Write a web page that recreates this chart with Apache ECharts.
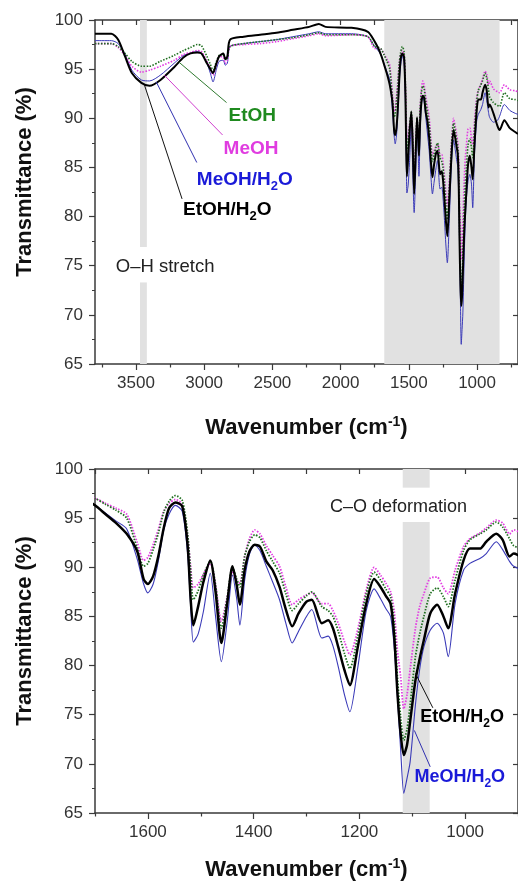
<!DOCTYPE html>
<html><head><meta charset="utf-8">
<script src="https://cdn.jsdelivr.net/npm/echarts@6/dist/echarts.min.js"></script>
<style>html,body{margin:0;padding:0;background:#fff}#c{width:518px;height:883px}</style>
</head><body><div id="c"></div>
<script>
// ---- data (wavenumber in cm-1, transmittance in %) ----
const wavenumbers = [3800,3680,3630,3580,3530,3460,3400,3320,3220,3150,3100,3050,3020,2980,2955,2935,2910,2890,2860,2845,2830,2810,2710,2590,2470,2350,2230,2160,2110,1920,1800,1750,1720,
1700,1680,1660,1640,1620,1608,1600,1590,1580,1570,1560,1548,1535,1525,1519,1514,1505,1495,1482,1472,1461,1450,1440,1432,1426,1417,1408,1398,1388,1376,1364,1351,1339,1327,1315,1300,1290,1271,1259,1250,1240,1228,1218,1203,1187,1172,1160,1150,1141,1134,1128,1122,1116,1110,1104,1094,1086,1078,1066,1053,1041,1032,1019,1003,991,972,960,941,929,916,908,880,850,835,800,760,720,700];

const etohH2o = [98.6,98.6,98.0,96.3,94.6, 93.6,93.3,93.9,95.2,96.2, 96.6,96.7,96.6,95.6,95.0, 94.6,95.6,96.3,96.6,96.0, 96.3,98.0,98.3,98.5,98.7, 99.0,99.3,99.6,99.3,99.2, 98.8,97.8,97.0,
96.3,95.4,94.5,93.4,91.6, 88.8,88.3,89.1,91.2,94.0, 96.0,96.6,96.2,92.3,86.7, 84.1,86.0,88.5,90.7,87.5, 82.3,86.3,90.1,88.2,86.2, 89.7,91.6,92.3,92.1,90.6, 89.7,88.0,85.7,84.0,85.3, 86.5,86.7,84.3,84.6,83.8, 81.9,79.5,78.0,81.9,86.3, 88.8,88.0,87.1,86.3,82.9, 77.2,73.1,70.9,71.9,74.3, 78.5,80.7,82.6,85.3,86.2, 85.0,83.8,87.3,90.7,91.9, 91.9,92.6,93.4,92.8,91.1, 91.4,90.5,89.2,88.8,89.8, 89.0,88.6,88.4];

const meohH2o = [97.9,97.9,97.6,96.5,94.9, 93.9,93.8,94.4,95.6,96.4, 96.6,96.8,96.6,95.6,94.6, 93.7,95.0,95.8,95.9,95.4, 95.6,97.3,97.6,97.8,98.0, 98.3,98.6,98.8,98.6,98.6, 98.3,97.3,96.8,
96.3,95.5,94.7,93.9,90.8, 88.3,87.4,88.3,90.7,93.8, 95.4,96.3,95.7,91.5,86.0, 82.4,83.2,85.5,89.4,85.0, 80.4,84.5,89.2,86.8,84.1, 88.7,91.3,92.3,91.7,90.1, 88.5,86.7,84.3,82.3,83.5, 85.0,85.7,82.8,83.0,82.0, 79.9,77.0,75.3,79.8,85.6, 87.8,86.8,85.8,85.0,81.8, 76.8,71.5,67.0,68.5,70.2, 76.0,79.6,81.9,83.6,84.3, 83.3,80.9,86.3,89.7,90.4, 90.9,91.4,92.6,91.8,90.6, 90.1,89.6,89.8,90.2,91.4, 90.8,90.5,90.4];

const etoh = [97.6,97.6,97.3,96.6,95.8, 95.3,95.3,95.8,96.4,96.9, 97.2,97.5,97.4,96.3,95.5, 94.9,95.8,96.4,96.5,96.0, 96.1,97.3,97.6,97.8,98.0, 98.2,98.5,98.7,98.5,98.5, 98.3,97.3,97.2,
97.0,96.4,95.8,95.0,91.9, 90.1,90.4,91.8,93.5,95.6, 96.7,97.3,96.8,93.5,89.5, 86.7,87.6,89.2,90.6,88.2, 83.8,86.9,90.0,88.8,88.0, 91.1,92.6,93.3,93.0,91.7, 90.6,89.4,87.3,85.6,86.3, 87.1,87.5,86.0,85.6,85.0, 83.5,81.2,79.7,83.0,87.3, 89.5,88.7,87.8,87.0,84.2, 78.8,74.8,72.4,73.5,76.0, 80.9,83.2,85.0,87.3,87.9, 87.0,86.0,88.7,91.7,92.8, 93.4,93.8,94.6,94.1,92.9, 92.2,91.6,91.3,91.2,92.6, 92.0,91.9,91.8];

const meoh = [97.6,97.6,97.2,96.4,95.3, 94.7,94.9,95.3,95.9,96.5, 96.7,96.9,96.8,95.8,95.1, 94.4,95.5,96.3,96.2,95.6, 95.9,97.3,97.5,97.6,97.8, 98.1,98.4,98.6,98.4,98.5, 98.3,97.1,97.1,
97.0,96.5,96.0,95.4,92.5, 90.7,91.0,92.3,93.9,95.7, 96.5,96.9,96.4,93.2,90.0, 87.9,88.3,89.3,90.4,88.2, 84.5,87.0,89.6,88.6,88.4, 91.1,92.9,93.8,93.4,92.2, 91.2,90.1,88.0,86.2,86.7, 87.2,87.4,86.3,86.3,85.6, 84.3,82.4,81.1,83.7,87.7, 90.0,89.2,88.4,87.5,85.5, 81.5,78.9,75.6,77.0,79.6, 83.8,86.0,87.3,88.9,89.0, 87.9,87.3,89.7,92.1,92.9, 93.5,94.0,94.8,94.5,93.4, 93.8,93.0,92.7,92.6,93.4, 92.9,92.8,92.7];

// tick values
const topMajorTicks = [3500,3000,2500,2000,1500,1000];
const topMinorTicks = [3750,3250,2750,2250,1750,1250,750];
const botMajorTicks = [1600,1400,1200,1000];
const botMinorTicks = [1700,1500,1300,1100,900];

// ---- chart ----
const FONT = 'Liberation Sans, Arial, Helvetica, sans-serif';
const AX = '#3a3a3a';
const chart = echarts.init(document.getElementById('c'), null, {renderer:'canvas'});

const seriesDefs = [
  {name:'MeOH/H2O', vals:meohH2o, color:'#3a3ab8', type:'solid', w:[1,1.1]},
  {name:'MeOH', vals:meoh, color:'#e23de2', type:[1.5,1.5], w:[1.6,1.8]},
  {name:'EtOH', vals:etoh, color:'#1f6e1f', type:[1.5,1.5], w:[1.6,1.8]},
  {name:'EtOH/H2O', vals:etohH2o, color:'#000000', type:'solid', w:[2,2.5]}
];

const grids = [
  {left:95, top:20, width:427, height:344},
  {left:95, top:469, width:427, height:344}
];

const plain = v => String(v);

function xAxesFor(gi, min, max, majors, minors, nameGap) {
  const base = {type:'value', gridIndex:gi, min, max, inverse:true, splitLine:{show:false}};
  return [
    Object.assign({}, base, {
      position:'bottom',
      axisLine:{show:true, onZero:false, lineStyle:{color:AX, width:1.5}},
      axisTick:{show:true, inside:false, length:6, customValues:majors, lineStyle:{color:AX, width:1.2}},
      axisLabel:{show:true, customValues:majors, formatter:plain, fontSize:17, color:'#333', fontFamily:FONT, margin:11},
      name:'{b|Wavenumber (cm}{p|-1}{b|)}', nameLocation:'middle', nameGap,
      nameTextStyle:{rich:{
        b:{fontSize:22, fontWeight:'bold', color:'#111', fontFamily:FONT, lineHeight:26},
        p:{fontSize:14, fontWeight:'bold', color:'#111', fontFamily:FONT, lineHeight:14, verticalAlign:'top'}
      }}
    }),
    Object.assign({}, base, {
      position:'bottom',
      axisLine:{show:false, onZero:false},
      axisTick:{show:true, inside:false, length:3.5, customValues:minors, lineStyle:{color:AX, width:1.2}},
      axisLabel:{show:false}
    }),
    Object.assign({}, base, {
      position:'top',
      axisLine:{show:true, onZero:false, lineStyle:{color:AX, width:1.5}},
      axisTick:{show:true, inside:true, length:5, customValues:majors.concat(minors), lineStyle:{color:AX, width:1.2}},
      axisLabel:{show:false}
    })
  ];
}
function yAxesFor(gi) {
  return [
    {type:'value', gridIndex:gi, position:'left', min:65, max:100, interval:5,
     axisLine:{show:true, onZero:false, lineStyle:{color:AX, width:1.5}},
     axisTick:{show:true, inside:false, length:6, lineStyle:{color:AX, width:1.2}},
     minorTick:{show:true, splitNumber:2, length:3, lineStyle:{color:AX, width:1}},
     axisLabel:{fontSize:17, color:'#333', fontFamily:FONT, margin:12, formatter:plain},
     splitLine:{show:false},
     name:'Transmittance (%)', nameLocation:'middle', nameGap:57, nameRotate:90,
     nameTextStyle:{fontSize:22, fontWeight:'bold', color:'#111', fontFamily:FONT, lineHeight:26, padding:[0,0,0,20]}
    },
    {type:'value', gridIndex:gi, position:'right', min:65, max:100, interval:5,
     axisLine:{show:true, onZero:false, lineStyle:{color:AX, width:1.5}},
     axisTick:{show:true, inside:true, length:5, lineStyle:{color:AX, width:1.2}},
     axisLabel:{show:false}, splitLine:{show:false}
    }
  ];
}

const xAxis = xAxesFor(0, 700, 3800, topMajorTicks, topMinorTicks, 51)
  .concat(xAxesFor(1, 900, 1700, botMajorTicks, botMinorTicks, 44));
const yAxis = yAxesFor(0).concat(yAxesFor(1));

function pairs(vals) { return wavenumbers.map((w, i) => [w, vals[i]]); }

const series = [];
[0,1].forEach(g => {
  seriesDefs.forEach(d => {
    series.push({
      name:d.name, type:'line', xAxisIndex:g*3, yAxisIndex:g*2,
      data:pairs(d.vals), showSymbol:false, smooth:0.25, z:2,
      lineStyle:{color:d.color, width:d.w[g], type:d.type},
      itemStyle:{color:d.color}, animation:false, silent:true
    });
  });
});

const BAND = '#e1e1e1';
function subLabel(txt, color, fs) {
  return {
    show:true, position:'right', distance:0, offset:[0,6],
    formatter:'{n|' + txt + '/H}{s|2}{n|O}',
    rich:{
      n:{fontSize:fs, fontWeight:'bold', color, fontFamily:FONT, lineHeight:20, verticalAlign:'top'},
      s:{fontSize:Math.round(fs*0.68), fontWeight:'bold', color, fontFamily:FONT, lineHeight:32}
    }
  };
}
function plainLabel(txt, color, fs, bold, pos) {
  return {show:true, position:pos||'right', distance:0, formatter:txt,
    fontSize:fs, fontWeight:bold?'bold':'normal', color, fontFamily:FONT};
}
function leader(a, b, color) {
  return [{coord:a, lineStyle:{color, width:1, type:'solid'}}, {coord:b}];
}
const mpBase = {symbol:'circle', symbolSize:0.1, itemStyle:{color:'rgba(0,0,0,0)'}, silent:true, animation:false};

// top panel annotations
series.push({
  type:'line', xAxisIndex:0, yAxisIndex:0, data:[], z:1, silent:true,
  markArea:{silent:true, itemStyle:{color:BAND}, animation:false, data:[
    [{xAxis:3470, yAxis:65}, {xAxis:3420, yAxis:73.3}],
    [{xAxis:3470, yAxis:76.9}, {xAxis:3420, yAxis:100}],
    [{xAxis:1680, yAxis:65}, {xAxis:835, yAxis:100}]
  ]},
  markLine:{silent:true, symbol:['none','none'], label:{show:false}, animation:false, data:[
    leader([3184,95.7],[2836,91.6],'#2f7a2f'),
    leader([3293,94.4],[2865,88.3],'#d040d0'),
    leader([3351,93.7],[3054,85.5],'#3030b0'),
    leader([3438,93.4],[3162,81.8],'#111')
  ]},
  markPoint:Object.assign({}, mpBase, {data:[
    {coord:[2822,90.3], label:plainLabel('EtOH','#1f8a1f',19,true)},
    {coord:[2858,86.9], label:plainLabel('MeOH','#e03ce0',19,true)},
    {coord:[3054,83.7], label:subLabel('MeOH','#1a1ad8',19)},
    {coord:[3155,80.6], label:subLabel('EtOH','#000',19)},
    {coord:[3648,74.9], label:plainLabel('O\u2013H stretch','#222',18.5,false)}
  ]})
});

// bottom panel annotations
series.push({
  type:'line', xAxisIndex:3, yAxisIndex:2, data:[], z:1, silent:true,
  markArea:{silent:true, itemStyle:{color:BAND}, animation:false, data:[
    [{xAxis:1118, yAxis:65}, {xAxis:1067, yAxis:94.6}],
    [{xAxis:1118, yAxis:98.1}, {xAxis:1067, yAxis:100}]
  ]},
  markLine:{silent:true, symbol:['none','none'], label:{show:false}, animation:false, data:[
    leader([1094,79.2],[1061,75.7],'#111'),
    leader([1096,73.4],[1066,69.7],'#3030b0')
  ]},
  markPoint:Object.assign({}, mpBase, {data:[
    {coord:[1085,74.7], label:subLabel('EtOH','#000',18)},
    {coord:[1096,68.6], label:subLabel('MeOH','#1a1ad8',18)},
    {coord:[1126,96.1], label:plainLabel('C\u2013O deformation','#222',18,false,'inside')}
  ]})
});

chart.setOption({
  backgroundColor:'#fff',
  animation:false,
  grid:grids,
  xAxis, yAxis, series
});
</script>
</body></html>
